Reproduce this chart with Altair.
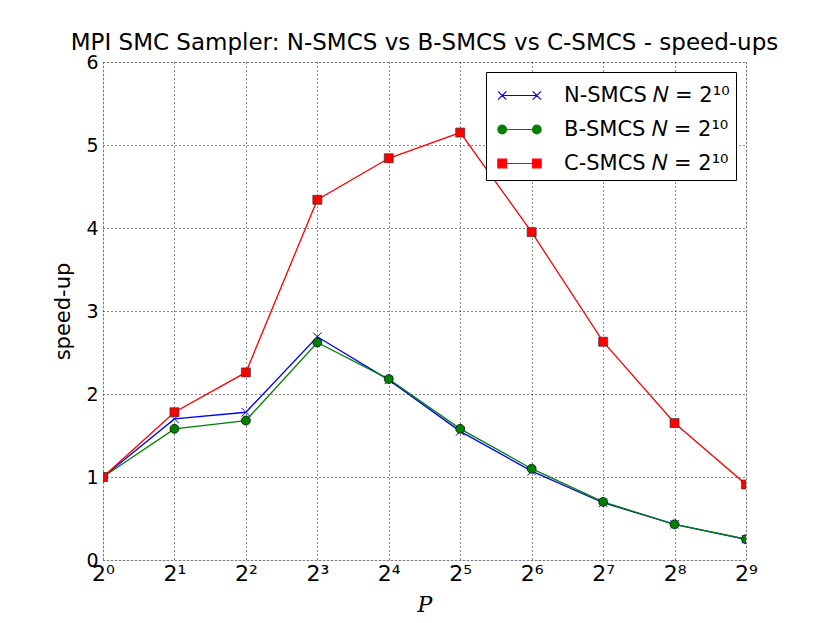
import json
import altair as alt
import pandas as pd

# ---- data ----
P = [1, 2, 4, 8, 16, 32, 64, 128, 256, 512]
n_smcs = [1.00, 1.70, 1.78, 2.69, 2.17, 1.55, 1.07, 0.69, 0.43, 0.25]
b_smcs = [1.00, 1.58, 1.68, 2.62, 2.18, 1.58, 1.10, 0.70, 0.43, 0.25]
c_smcs = [1.00, 1.78, 2.26, 4.34, 4.84, 5.15, 3.95, 2.63, 1.65, 0.91]

legend_labels = ["N-SMCS 𝑁 = 2¹⁰ ", "B-SMCS 𝑁 = 2¹⁰ ", "C-SMCS 𝑁 = 2¹⁰ "]
x_tick_labels = ["2⁰", "2¹", "2²", "2³", "2⁴", "2⁵", "2⁶", "2⁷", "2⁸", "2⁹"]
y_ticks = [0, 1, 2, 3, 4, 5, 6]
chart_title = "MPI SMC Sampler: N-SMCS vs B-SMCS vs C-SMCS - speed-ups"
x_title = "P"
y_title = "speed-up"

colors = ["#0000ff", "#008000", "#ff0000"]

rows = []
for lab, vals in zip(legend_labels, [n_smcs, b_smcs, c_smcs]):
    for p, v in zip(P, vals):
        rows.append({"P": p, "speedup": v, "series": lab})
df = pd.DataFrame(rows)

# marker shapes
X_PATH = "M-1,-1L1,1M-1,1L1,-1"
# legend symbols: line with a marker at both ends
LEG_N = ("M-1.05,0L1.05,0"
         "M-1.3,-0.25L-0.8,0.25M-1.3,0.25L-0.8,-0.25"
         "M0.8,-0.25L1.3,0.25M0.8,0.25L1.3,-0.25")
LEG_B = ("M-1.05,0L1.05,0"
         "M-1.31,0A0.26,0.26 0 1,0 -0.79,0A0.26,0.26 0 1,0 -1.31,0Z"
         "M0.79,0A0.26,0.26 0 1,0 1.31,0A0.26,0.26 0 1,0 0.79,0Z")
LEG_C = ("M-1.05,0L1.05,0"
         "M-1.31,-0.26L-0.79,-0.26L-0.79,0.26L-1.31,0.26Z"
         "M0.79,-0.26L1.31,-0.26L1.31,0.26L0.79,0.26Z")
legend_paths = [LEG_N, LEG_B, LEG_C]

label_expr = json.dumps(x_tick_labels, ensure_ascii=False) + "[round(log(datum.value)/LN2)]"

grid_style = dict(gridColor="black", gridDash=[1, 3], gridWidth=1, gridOpacity=0.9)

x_enc = alt.X(
    "P:Q",
    scale=alt.Scale(type="log", base=2, domain=[1, 512], nice=False),
    axis=alt.Axis(
        values=P, labelExpr=label_expr, title=x_title,
        grid=True, ticks=False, tickSize=0, domain=False,
        labelFlush=False, labelOverlap=False, labelBound=False,
        labelFont="DejaVu Sans", labelFontSize=22, labelColor="black", labelPadding=3,
        titleFont="DejaVu Serif", titleFontStyle="italic", titleFontWeight="normal",
        titleFontSize=22, titleColor="black", titleY=51, titleBaseline="alphabetic",
        **grid_style,
    ),
)
y_enc = alt.Y(
    "speedup:Q",
    scale=alt.Scale(domain=[0, 6], nice=False, zero=True),
    axis=alt.Axis(
        values=y_ticks, format="d", title=y_title,
        grid=True, ticks=False, tickSize=0, domain=False,
        labelFlush=False, labelOverlap=False, labelBound=False,
        labelFont="DejaVu Sans", labelFontSize=19, labelColor="black", labelPadding=5,
        titleFont="DejaVu Sans", titleFontWeight="normal", titleFontSize=21,
        titleColor="black", titleX=-34, titleY=249, titleBaseline="alphabetic",
        **grid_style,
    ),
)

base = alt.Chart(df)
layers = []

# N-SMCS
dn = base.transform_filter(alt.datum.series == legend_labels[0])
layers.append(dn.mark_line(color=colors[0], strokeWidth=1.3, clip=True).encode(x=x_enc, y=y_enc))
layers.append(dn.mark_point(shape=X_PATH, filled=False, stroke=colors[0], strokeWidth=1,
                            size=72, opacity=1, clip=True).encode(x=x_enc, y=y_enc))
# B-SMCS
db = base.transform_filter(alt.datum.series == legend_labels[1])
layers.append(db.mark_line(color=colors[1], strokeWidth=1.3, clip=True).encode(x=x_enc, y=y_enc))
layers.append(db.mark_circle(size=81, color=colors[1], stroke="black", strokeWidth=0.7,
                             opacity=1, clip=True).encode(x=x_enc, y=y_enc))
# C-SMCS
dc = base.transform_filter(alt.datum.series == legend_labels[2])
layers.append(dc.mark_line(color=colors[2], strokeWidth=1.3, clip=True).encode(x=x_enc, y=y_enc))
layers.append(dc.mark_square(size=81, color=colors[2], stroke="#333333", strokeWidth=0.7,
                             opacity=1, clip=True).encode(x=x_enc, y=y_enc))

leg = alt.Legend(
    title=None, orient="top-right", offset=10,
    labelFont="DejaVu Sans", labelFontSize=21, labelColor="black", labelLimit=400,
    strokeColor="black", fillColor="white", padding=6, cornerRadius=0,
    symbolSize=1089, symbolStrokeWidth=1.2, symbolOpacity=1,
    symbolOffset=10, labelOffset=27, rowPadding=6,
)
layers.append(
    base.mark_point(filled=True, opacity=0).encode(
        x=x_enc, y=y_enc,
        shape=alt.Shape("series:N", scale=alt.Scale(domain=legend_labels, range=legend_paths), legend=leg),
        stroke=alt.Stroke("series:N", scale=alt.Scale(domain=legend_labels, range=colors), legend=leg),
        fill=alt.Fill("series:N", scale=alt.Scale(domain=legend_labels, range=colors), legend=leg),
    )
)

chart = alt.layer(*layers).properties(
    width=643,
    height=498,
    title=alt.TitleParams(
        chart_title, font="DejaVu Sans", fontSize=23, fontWeight="normal", color="black",
        anchor="middle", frame="group", baseline="alphabetic", offset=9, dy=29,
    ),
    autosize=alt.AutoSizeParams(type="none"),
    padding={"left": 95, "top": 54, "right": 50, "bottom": 55},
).configure_view(
    stroke="black", strokeWidth=1
).configure(background="white")

chart.save("out.html", embed_options={"renderer": "svg", "actions": False})
